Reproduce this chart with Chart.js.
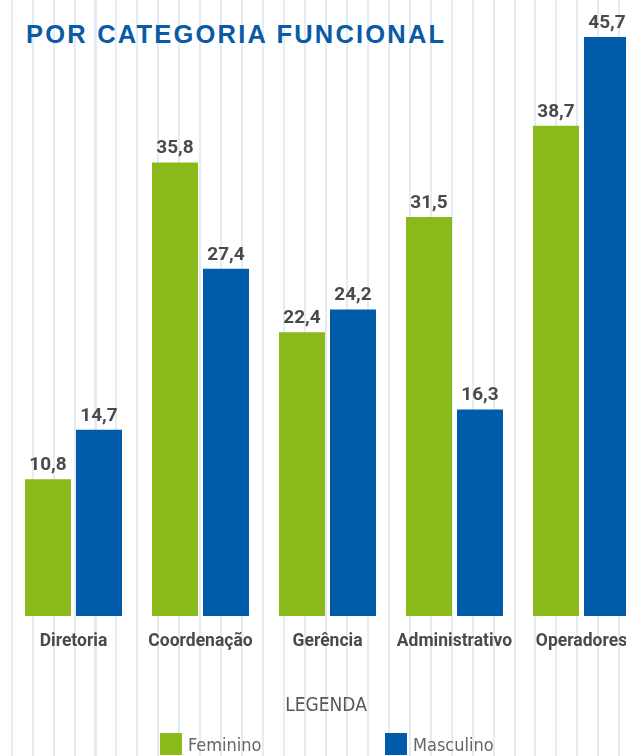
<!DOCTYPE html>
<html lang="pt">
<head>
<meta charset="utf-8">
<script src="https://cdn.jsdelivr.net/npm/chart.js@4/dist/chart.umd.min.js"></script>
<style>
  html, body { margin: 0; padding: 0; }
  body {
    width: 626px; height: 756px; overflow: hidden; position: relative;
    background: #fff repeating-linear-gradient(to right,
      transparent 0, transparent 10.7px, #e4ecf6 10.7px, #e4ecf6 12.7px, transparent 12.7px, transparent 20.95px);
  }
  #titulo {
    position: absolute; left: 26px; top: 21px; margin: 0;
    font: bold 25.5px "Liberation Sans", Arial, sans-serif; line-height: 26px;
    letter-spacing: 2.2px; color: #0a5aa6; white-space: nowrap;
  }
  #area { position: absolute; left: 0; top: 0; width: 655px; height: 667px; }
  #legenda { position: absolute; left: 0; top: 0; width: 626px; height: 756px; pointer-events: none;
    font-family: "DejaVu Sans Condensed", "DejaVu Sans", sans-serif; font-stretch: condensed; color: #58585a; }
  #legenda .tit { position: absolute; left: 0; width: 652px; top: 692px; text-align: center; font-size: 19px; line-height: 24px; }
  .item { position: absolute; top: 733px; font-size: 18px; line-height: 24px; color: #666; white-space: nowrap; }
  .item span { display: inline-block; width: 22px; height: 22px; vertical-align: top; margin-right: 6px; }
</style>
</head>
<body>
<h1 id="titulo">POR CATEGORIA FUNCIONAL</h1>
<div id="area"><canvas id="grafico"></canvas></div>
<div id="legenda"><div class="tit">LEGENDA</div></div>
<script>
const categorias = ['Diretoria', 'Coordenação', 'Gerência', 'Administrativo', 'Operadores'];
const feminino = [10.8, 35.8, 22.4, 31.5, 38.7];
const masculino = [14.7, 27.4, 24.2, 16.3, 45.7];
const series = ['Feminino', 'Masculino'];
const cores = ['#8ab91c', '#005ca9'];

// legenda em html
const posLegenda = [160, 385];
const legenda = document.getElementById('legenda');
series.forEach((nome, i) => {
  const el = document.createElement('div');
  el.className = 'item';
  el.style.left = posLegenda[i] + 'px';
  el.innerHTML = `<span style="background:${cores[i]}"></span>${nome}`;
  legenda.appendChild(el);
});

// rótulos de valor acima das barras
const rotulosValor = {
  id: 'rotulosValor',
  afterDatasetsDraw(chart) {
    const { ctx } = chart;
    ctx.save();
    ctx.font = 'bold 19px Roboto, sans-serif';
    ctx.fillStyle = '#4a4a4c';
    ctx.textAlign = 'center';
    ctx.textBaseline = 'alphabetic';
    chart.data.datasets.forEach((ds, i) => {
      chart.getDatasetMeta(i).data.forEach((bar, j) => {
        ctx.fillText(ds.data[j].toFixed(1).replace('.', ','), bar.x, bar.y - 9);
      });
    });
    ctx.restore();
  }
};

new Chart(document.getElementById('grafico'), {
  type: 'bar',
  data: {
    labels: categorias,
    datasets: [
      { label: series[0], data: feminino, backgroundColor: cores[0] },
      { label: series[1], data: masculino, backgroundColor: cores[1] }
    ]
  },
  options: {
    responsive: true,
    maintainAspectRatio: false,
    animation: false,
    layout: { padding: { left: 10, right: 10, top: 0, bottom: 0 } },
    datasets: { bar: { categoryPercentage: 0.803, barPercentage: 0.902 } },
    plugins: {
      legend: { display: false },
      tooltip: { enabled: false }
    },
    scales: {
      x: {
        grid: { display: false, drawTicks: false },
        border: { display: false },
        ticks: { color: '#4a4a4c', padding: 15, font: { family: 'Roboto', weight: 'bold', size: 17.5 } }
      },
      y: { display: false, min: 0, max: 48.62 }
    }
  },
  plugins: [rotulosValor]
});
</script>
</body>
</html>
